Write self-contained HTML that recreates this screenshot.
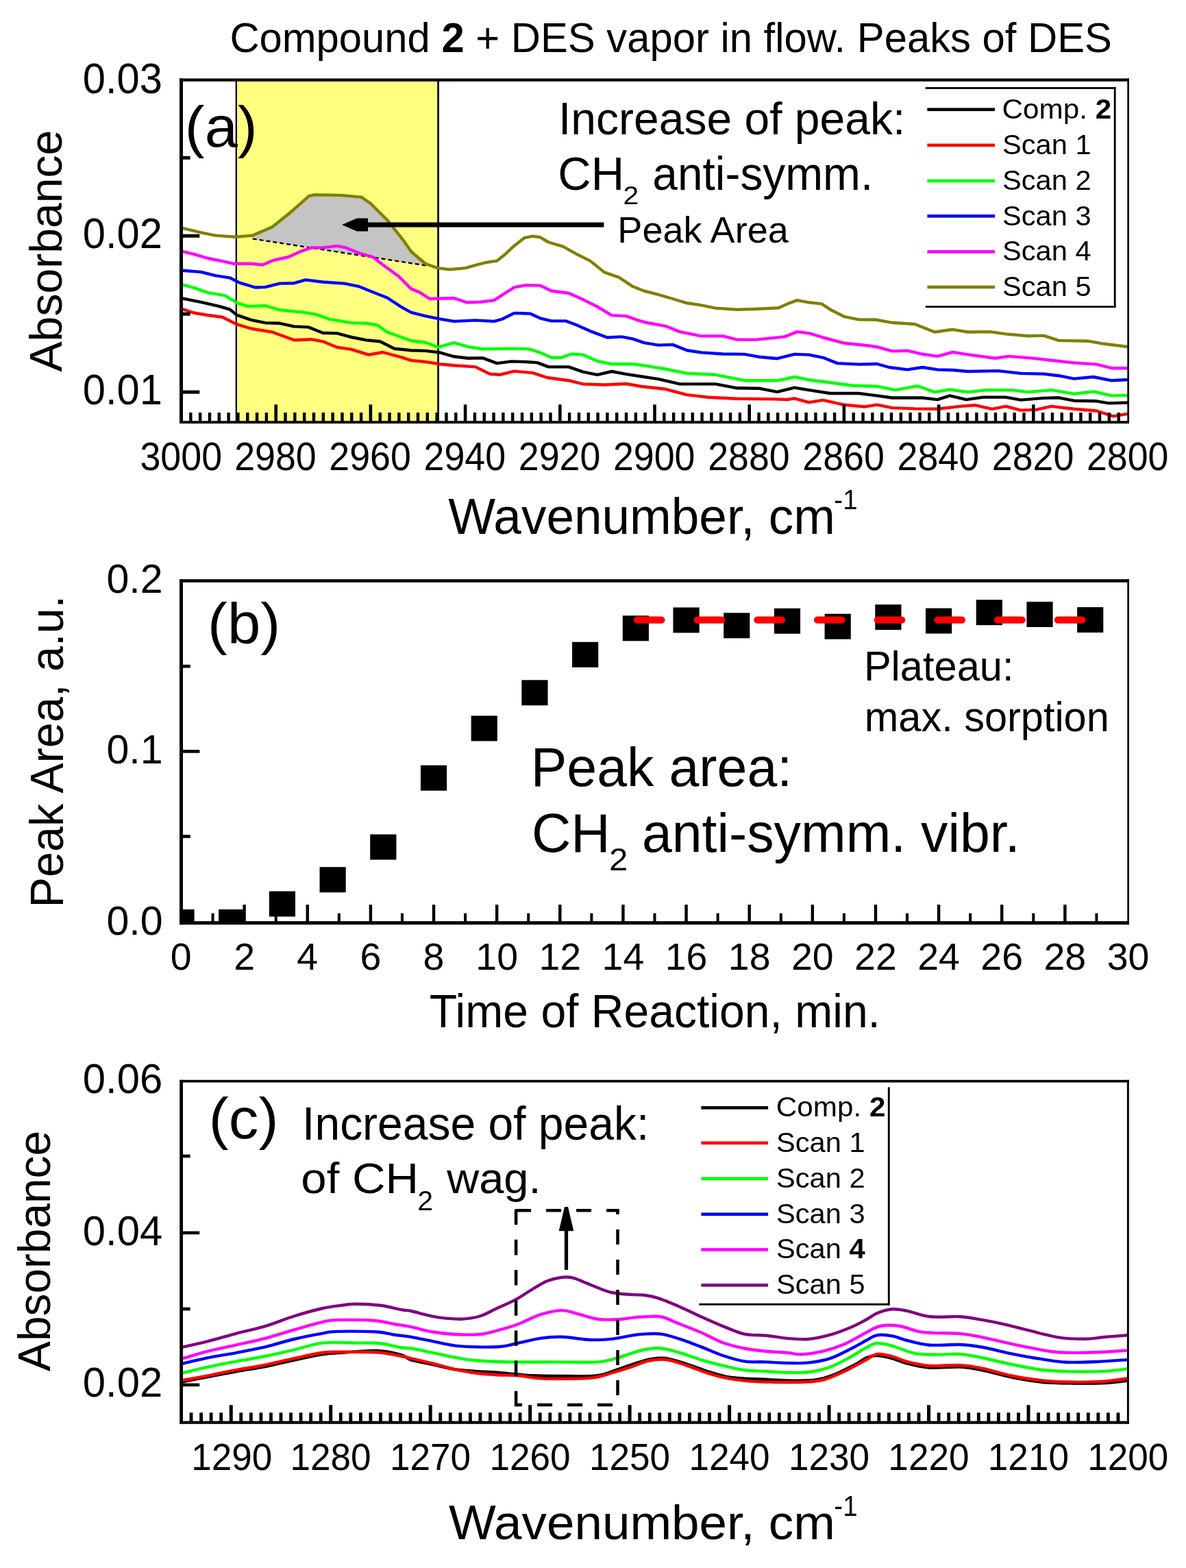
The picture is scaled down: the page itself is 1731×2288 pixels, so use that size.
<!DOCTYPE html>
<html><head><meta charset="utf-8"><title>Compound 2 + DES vapor in flow</title>
<style>html,body{margin:0;padding:0;background:#fff;}svg{display:block;}</style></head><body>
<svg width="1731" height="2288" viewBox="0 0 1731 2288" font-family="&apos;Liberation Sans&apos;, Arial, Helvetica, sans-serif">
<rect width="1731" height="2288" fill="#fff"/>
<defs><clipPath id="ca"><rect x="264" y="116" width="1383" height="500"/></clipPath><clipPath id="cb"><rect x="264" y="847" width="1383" height="499"/></clipPath><clipPath id="cc"><rect x="264" y="1577" width="1383" height="498"/></clipPath></defs>
<text transform="translate(335.41,75.50) scale(0.9899,1)" font-size="60.40">Compound <tspan font-weight="bold">2</tspan> + DES vapor in flow. Peaks of DES</text>
<rect x="344.50" y="117.00" width="295.10" height="499.00" fill="#FFFF80"/>
<polygon points="368.7,343.6 397.3,331.2 426.0,308.2 450.9,286.2 458.5,284.3 496.8,284.9 527.3,287.6 540.7,296.8 565.6,321.6 588.5,350.3 600.0,367.0 611.5,377.0 622.9,386.5 622.9,387.6 368.7,348.4" fill="#C4C4C4"/>
<line x1="368.7" y1="348.4" x2="622.9" y2="387.6" stroke="#000" stroke-width="2.4" stroke-dasharray="6 4"/>
<rect x="343.70" y="117.00" width="2.20" height="499.00" fill="#000"/>
<rect x="638.25" y="117.00" width="2.70" height="499.00" fill="#000"/>
<g clip-path="url(#ca)">
<polyline points="265.0,435.2 267.2,435.6 293.4,440.8 320.5,447.1 335.2,451.3 345.6,459.6 366.5,466.9 387.4,471.1 408.4,471.8 429.3,476.4 450.2,477.4 471.1,485.8 492.0,486.4 512.9,492.0 533.8,496.2 554.7,498.3 575.6,508.8 600.0,511.3 620.9,511.9 641.8,514.4 662.7,520.3 683.6,522.8 704.5,522.4 725.4,530.1 746.4,527.4 767.3,528.0 784.0,529.1 800.7,535.4 830.0,535.4 850.9,542.7 871.8,546.8 892.7,542.0 913.6,545.8 937.0,549.5 960.9,553.1 992.3,560.4 1044.5,560.4 1075.9,566.3 1107.3,566.7 1134.4,571.9 1159.5,565.7 1180.4,569.2 1211.8,574.0 1253.6,574.0 1280.0,577.4 1302.1,580.5 1346.3,580.5 1368.4,583.1 1386.1,577.4 1410.4,583.1 1434.7,579.6 1467.9,579.6 1490.0,583.6 1523.1,580.9 1545.3,580.3 1567.4,584.7 1600.5,585.3 1618.2,588.4 1646.0,587.5" fill="none" stroke="#000" stroke-width="4.40" stroke-linejoin="round" stroke-linecap="butt"/>
<polyline points="265.0,450.8 267.2,451.3 282.9,456.5 303.8,460.0 324.7,462.8 345.6,473.2 366.5,479.5 397.9,484.7 429.3,496.2 454.3,495.2 471.1,498.3 492.0,506.7 512.9,509.8 538.0,517.7 558.9,514.0 586.0,521.3 600.0,525.9 620.9,528.0 641.8,531.2 662.7,533.3 694.1,535.4 715.0,545.8 729.6,546.8 750.5,541.6 777.7,544.1 798.6,551.0 830.0,555.2 850.9,560.4 882.2,561.5 913.6,560.0 937.0,564.0 971.4,567.8 1002.7,576.1 1034.1,579.7 1075.9,581.8 1128.2,582.4 1149.1,583.0 1159.5,581.3 1180.4,587.2 1201.3,583.9 1232.7,590.8 1262.0,593.5 1280.0,590.6 1302.1,595.1 1335.3,596.4 1368.4,596.8 1401.6,592.9 1423.7,591.3 1448.0,596.8 1467.9,592.9 1490.0,598.6 1512.1,597.9 1534.2,592.9 1567.4,596.8 1600.5,599.5 1624.8,607.4 1646.0,603.9" fill="none" stroke="#FF0000" stroke-width="4.40" stroke-linejoin="round" stroke-linecap="butt"/>
<polyline points="265.0,415.2 267.2,415.7 282.9,419.9 303.8,427.2 328.9,431.4 345.6,441.9 362.4,447.1 387.4,446.0 408.4,452.3 439.7,455.4 460.6,458.6 481.5,465.9 512.9,471.1 533.8,471.8 550.5,474.3 565.2,484.7 586.0,492.0 600.0,497.3 620.9,499.8 639.7,506.7 662.7,500.2 683.6,506.1 704.5,509.2 746.4,508.6 771.4,509.2 788.2,514.4 804.9,521.8 819.5,521.8 834.2,516.5 850.9,517.6 871.8,527.0 892.7,531.2 924.1,531.2 940.0,533.3 971.4,538.5 1002.7,544.8 1044.5,546.8 1086.4,555.2 1136.5,555.2 1159.5,550.0 1180.4,554.2 1211.8,558.3 1243.2,562.5 1280.0,563.7 1306.5,569.2 1339.7,563.2 1364.0,572.1 1386.1,568.5 1412.6,572.1 1439.2,569.2 1478.9,569.4 1501.0,572.1 1534.2,569.2 1567.4,574.7 1596.1,571.4 1622.6,577.4 1646.0,576.9" fill="none" stroke="#00FF00" stroke-width="4.40" stroke-linejoin="round" stroke-linecap="butt"/>
<polyline points="265.0,394.6 267.2,394.8 293.4,396.9 314.3,402.1 335.2,405.3 349.8,412.6 372.8,419.5 387.4,418.9 408.4,413.6 429.3,413.2 446.0,408.4 471.1,411.5 502.4,413.6 523.3,417.8 544.2,426.2 565.2,434.5 586.0,448.1 600.0,455.9 620.9,461.1 641.8,465.3 662.7,468.9 694.1,467.4 721.3,468.9 733.8,465.3 750.5,456.9 773.5,457.6 788.2,464.3 804.9,468.4 825.8,468.4 840.4,473.7 861.3,483.1 886.4,492.5 907.3,491.4 924.1,494.6 940.0,500.2 960.9,503.6 981.8,502.9 1002.7,511.3 1023.6,514.4 1055.0,516.5 1086.4,516.9 1107.3,520.7 1134.4,523.2 1159.5,516.9 1180.4,517.6 1201.3,521.8 1222.3,530.1 1253.6,531.6 1280.0,531.0 1297.7,536.0 1324.2,539.4 1346.3,536.0 1368.4,539.4 1390.5,540.0 1412.6,542.0 1456.8,541.1 1490.0,544.9 1523.1,545.6 1545.3,548.2 1567.4,552.6 1596.1,550.0 1622.6,555.3 1646.0,554.0" fill="none" stroke="#0000FF" stroke-width="4.40" stroke-linejoin="round" stroke-linecap="butt"/>
<polyline points="265.0,366.7 267.2,367.2 282.9,370.8 303.8,377.0 324.7,381.2 341.4,384.8 366.5,384.8 383.3,386.5 397.9,380.2 420.9,375.0 439.7,366.6 454.3,361.4 471.1,361.4 492.0,358.9 504.5,361.4 525.4,369.7 544.2,375.0 558.9,386.5 581.9,403.2 600.0,421.4 612.5,426.6 627.2,436.0 662.7,435.0 681.5,441.3 700.4,440.8 721.3,438.1 733.8,429.8 750.5,419.3 767.3,416.2 788.2,416.6 804.9,424.5 830.0,427.7 850.9,437.1 871.8,447.5 892.7,460.1 913.6,461.1 934.5,468.4 945.0,471.0 971.4,475.8 992.3,484.1 1023.6,490.4 1055.0,490.4 1075.9,495.6 1103.1,495.6 1128.2,493.1 1144.9,491.4 1163.7,484.1 1180.4,486.2 1201.3,492.5 1232.7,500.8 1264.1,504.0 1280.0,506.2 1302.1,512.4 1324.2,511.7 1346.3,516.8 1368.4,519.9 1390.5,513.9 1412.6,517.3 1452.4,522.8 1472.3,519.9 1501.0,522.1 1534.2,525.7 1567.4,529.4 1600.5,531.6 1622.6,537.2 1646.0,537.2" fill="none" stroke="#FF00FF" stroke-width="4.40" stroke-linejoin="round" stroke-linecap="butt"/>
<polyline points="265.0,332.5 267.2,333.1 293.4,339.4 314.3,343.6 343.5,345.7 368.7,343.6 397.3,331.2 426.0,308.2 450.9,286.2 458.5,284.3 496.8,284.9 527.3,287.6 540.7,296.8 565.6,321.6 588.5,350.3 600.0,367.0 611.5,377.0 620.9,384.8 638.7,391.1 656.4,393.2 679.4,391.1 694.1,386.9 710.8,382.7 725.4,380.6 735.9,372.3 750.5,358.7 765.2,347.2 777.7,344.7 788.2,346.1 800.7,353.5 821.6,359.7 840.4,370.2 861.3,380.6 882.2,397.4 903.2,404.7 924.1,418.3 940.0,424.5 960.9,429.8 981.8,436.0 1002.7,442.3 1023.6,445.4 1044.5,449.6 1075.9,451.7 1107.3,450.7 1136.5,449.2 1149.1,443.4 1163.7,438.1 1180.4,441.3 1199.3,443.4 1211.8,451.7 1232.7,462.2 1253.6,466.4 1278.0,466.5 1302.1,470.8 1335.3,473.0 1364.0,484.5 1390.5,480.8 1412.6,484.5 1445.8,484.1 1467.9,487.4 1501.0,490.3 1523.1,489.6 1545.3,496.9 1589.5,497.8 1611.6,501.8 1646.0,506.0" fill="none" stroke="#808000" stroke-width="4.40" stroke-linejoin="round" stroke-linecap="butt"/>
</g>
<rect x="536.00" y="324.50" width="345.40" height="7.00" fill="#000"/>
<polygon points="499.1,328 521,318.4 537,318.4 537,337.6 521,337.6" fill="#000"/>
<rect x="262.00" y="114.50" width="1386.00" height="4.30" fill="#000"/>
<rect x="262.00" y="114.50" width="5.00" height="503.50" fill="#000"/>
<rect x="1645.30" y="114.50" width="2.70" height="503.50" fill="#000"/>
<rect x="262.00" y="614.20" width="1386.00" height="3.80" fill="#000"/>
<rect x="276.12" y="602.00" width="4.40" height="14.00" fill="#000"/>
<rect x="289.94" y="602.00" width="4.40" height="14.00" fill="#000"/>
<rect x="303.76" y="602.00" width="4.40" height="14.00" fill="#000"/>
<rect x="317.58" y="602.00" width="4.40" height="14.00" fill="#000"/>
<rect x="331.40" y="602.00" width="4.40" height="14.00" fill="#000"/>
<rect x="345.22" y="602.00" width="4.40" height="14.00" fill="#000"/>
<rect x="359.04" y="602.00" width="4.40" height="14.00" fill="#000"/>
<rect x="372.86" y="602.00" width="4.40" height="14.00" fill="#000"/>
<rect x="386.68" y="602.00" width="4.40" height="14.00" fill="#000"/>
<rect x="400.40" y="590.30" width="4.60" height="25.70" fill="#000"/>
<rect x="414.32" y="602.00" width="4.40" height="14.00" fill="#000"/>
<rect x="428.14" y="602.00" width="4.40" height="14.00" fill="#000"/>
<rect x="441.96" y="602.00" width="4.40" height="14.00" fill="#000"/>
<rect x="455.78" y="602.00" width="4.40" height="14.00" fill="#000"/>
<rect x="469.60" y="602.00" width="4.40" height="14.00" fill="#000"/>
<rect x="483.42" y="602.00" width="4.40" height="14.00" fill="#000"/>
<rect x="497.24" y="602.00" width="4.40" height="14.00" fill="#000"/>
<rect x="511.06" y="602.00" width="4.40" height="14.00" fill="#000"/>
<rect x="524.88" y="602.00" width="4.40" height="14.00" fill="#000"/>
<rect x="538.60" y="590.30" width="4.60" height="25.70" fill="#000"/>
<rect x="552.52" y="602.00" width="4.40" height="14.00" fill="#000"/>
<rect x="566.34" y="602.00" width="4.40" height="14.00" fill="#000"/>
<rect x="580.16" y="602.00" width="4.40" height="14.00" fill="#000"/>
<rect x="593.98" y="602.00" width="4.40" height="14.00" fill="#000"/>
<rect x="607.80" y="602.00" width="4.40" height="14.00" fill="#000"/>
<rect x="621.62" y="602.00" width="4.40" height="14.00" fill="#000"/>
<rect x="635.44" y="602.00" width="4.40" height="14.00" fill="#000"/>
<rect x="649.26" y="602.00" width="4.40" height="14.00" fill="#000"/>
<rect x="663.08" y="602.00" width="4.40" height="14.00" fill="#000"/>
<rect x="676.80" y="590.30" width="4.60" height="25.70" fill="#000"/>
<rect x="690.72" y="602.00" width="4.40" height="14.00" fill="#000"/>
<rect x="704.54" y="602.00" width="4.40" height="14.00" fill="#000"/>
<rect x="718.36" y="602.00" width="4.40" height="14.00" fill="#000"/>
<rect x="732.18" y="602.00" width="4.40" height="14.00" fill="#000"/>
<rect x="746.00" y="602.00" width="4.40" height="14.00" fill="#000"/>
<rect x="759.82" y="602.00" width="4.40" height="14.00" fill="#000"/>
<rect x="773.64" y="602.00" width="4.40" height="14.00" fill="#000"/>
<rect x="787.46" y="602.00" width="4.40" height="14.00" fill="#000"/>
<rect x="801.28" y="602.00" width="4.40" height="14.00" fill="#000"/>
<rect x="815.00" y="590.30" width="4.60" height="25.70" fill="#000"/>
<rect x="828.92" y="602.00" width="4.40" height="14.00" fill="#000"/>
<rect x="842.74" y="602.00" width="4.40" height="14.00" fill="#000"/>
<rect x="856.56" y="602.00" width="4.40" height="14.00" fill="#000"/>
<rect x="870.38" y="602.00" width="4.40" height="14.00" fill="#000"/>
<rect x="884.20" y="602.00" width="4.40" height="14.00" fill="#000"/>
<rect x="898.02" y="602.00" width="4.40" height="14.00" fill="#000"/>
<rect x="911.84" y="602.00" width="4.40" height="14.00" fill="#000"/>
<rect x="925.66" y="602.00" width="4.40" height="14.00" fill="#000"/>
<rect x="939.48" y="602.00" width="4.40" height="14.00" fill="#000"/>
<rect x="953.20" y="590.30" width="4.60" height="25.70" fill="#000"/>
<rect x="967.12" y="602.00" width="4.40" height="14.00" fill="#000"/>
<rect x="980.94" y="602.00" width="4.40" height="14.00" fill="#000"/>
<rect x="994.76" y="602.00" width="4.40" height="14.00" fill="#000"/>
<rect x="1008.58" y="602.00" width="4.40" height="14.00" fill="#000"/>
<rect x="1022.40" y="602.00" width="4.40" height="14.00" fill="#000"/>
<rect x="1036.22" y="602.00" width="4.40" height="14.00" fill="#000"/>
<rect x="1050.04" y="602.00" width="4.40" height="14.00" fill="#000"/>
<rect x="1063.86" y="602.00" width="4.40" height="14.00" fill="#000"/>
<rect x="1077.68" y="602.00" width="4.40" height="14.00" fill="#000"/>
<rect x="1091.40" y="590.30" width="4.60" height="25.70" fill="#000"/>
<rect x="1105.32" y="602.00" width="4.40" height="14.00" fill="#000"/>
<rect x="1119.14" y="602.00" width="4.40" height="14.00" fill="#000"/>
<rect x="1132.96" y="602.00" width="4.40" height="14.00" fill="#000"/>
<rect x="1146.78" y="602.00" width="4.40" height="14.00" fill="#000"/>
<rect x="1160.60" y="602.00" width="4.40" height="14.00" fill="#000"/>
<rect x="1174.42" y="602.00" width="4.40" height="14.00" fill="#000"/>
<rect x="1188.24" y="602.00" width="4.40" height="14.00" fill="#000"/>
<rect x="1202.06" y="602.00" width="4.40" height="14.00" fill="#000"/>
<rect x="1215.88" y="602.00" width="4.40" height="14.00" fill="#000"/>
<rect x="1229.60" y="590.30" width="4.60" height="25.70" fill="#000"/>
<rect x="1243.52" y="602.00" width="4.40" height="14.00" fill="#000"/>
<rect x="1257.34" y="602.00" width="4.40" height="14.00" fill="#000"/>
<rect x="1271.16" y="602.00" width="4.40" height="14.00" fill="#000"/>
<rect x="1284.98" y="602.00" width="4.40" height="14.00" fill="#000"/>
<rect x="1298.80" y="602.00" width="4.40" height="14.00" fill="#000"/>
<rect x="1312.62" y="602.00" width="4.40" height="14.00" fill="#000"/>
<rect x="1326.44" y="602.00" width="4.40" height="14.00" fill="#000"/>
<rect x="1340.26" y="602.00" width="4.40" height="14.00" fill="#000"/>
<rect x="1354.08" y="602.00" width="4.40" height="14.00" fill="#000"/>
<rect x="1367.80" y="590.30" width="4.60" height="25.70" fill="#000"/>
<rect x="1381.72" y="602.00" width="4.40" height="14.00" fill="#000"/>
<rect x="1395.54" y="602.00" width="4.40" height="14.00" fill="#000"/>
<rect x="1409.36" y="602.00" width="4.40" height="14.00" fill="#000"/>
<rect x="1423.18" y="602.00" width="4.40" height="14.00" fill="#000"/>
<rect x="1437.00" y="602.00" width="4.40" height="14.00" fill="#000"/>
<rect x="1450.82" y="602.00" width="4.40" height="14.00" fill="#000"/>
<rect x="1464.64" y="602.00" width="4.40" height="14.00" fill="#000"/>
<rect x="1478.46" y="602.00" width="4.40" height="14.00" fill="#000"/>
<rect x="1492.28" y="602.00" width="4.40" height="14.00" fill="#000"/>
<rect x="1506.00" y="590.30" width="4.60" height="25.70" fill="#000"/>
<rect x="1519.92" y="602.00" width="4.40" height="14.00" fill="#000"/>
<rect x="1533.74" y="602.00" width="4.40" height="14.00" fill="#000"/>
<rect x="1547.56" y="602.00" width="4.40" height="14.00" fill="#000"/>
<rect x="1561.38" y="602.00" width="4.40" height="14.00" fill="#000"/>
<rect x="1575.20" y="602.00" width="4.40" height="14.00" fill="#000"/>
<rect x="1589.02" y="602.00" width="4.40" height="14.00" fill="#000"/>
<rect x="1602.84" y="602.00" width="4.40" height="14.00" fill="#000"/>
<rect x="1616.66" y="602.00" width="4.40" height="14.00" fill="#000"/>
<rect x="1630.48" y="602.00" width="4.40" height="14.00" fill="#000"/>
<rect x="265.00" y="569.60" width="26.30" height="5.00" fill="#000"/>
<rect x="265.00" y="455.65" width="12.70" height="5.00" fill="#000"/>
<rect x="265.00" y="341.70" width="26.30" height="5.00" fill="#000"/>
<rect x="265.00" y="227.75" width="12.70" height="5.00" fill="#000"/>
<rect x="1350.80" y="127.10" width="277.70" height="2.80" fill="#000"/>
<rect x="1350.80" y="446.20" width="277.70" height="2.80" fill="#000"/>
<rect x="1625.80" y="127.10" width="2.80" height="321.90" fill="#000"/>
<rect x="1353.40" y="157.50" width="98.60" height="4.60" fill="#000"/>
<rect x="1353.40" y="209.60" width="98.60" height="4.60" fill="#FF0000"/>
<rect x="1353.40" y="261.60" width="98.60" height="4.60" fill="#00FF00"/>
<rect x="1353.40" y="313.00" width="98.60" height="4.60" fill="#0000FF"/>
<rect x="1353.40" y="365.00" width="98.60" height="4.60" fill="#FF00FF"/>
<rect x="1353.40" y="416.60" width="98.60" height="4.60" fill="#808000"/>
<rect x="245.40" y="1327.00" width="38.2" height="37" fill="#000" clip-path="url(#cb)"/>
<rect x="319.11" y="1327.00" width="38.2" height="37" fill="#000" clip-path="url(#cb)"/>
<rect x="392.81" y="1300.50" width="38.2" height="37" fill="#000" clip-path="url(#cb)"/>
<rect x="466.52" y="1265.20" width="38.2" height="37" fill="#000" clip-path="url(#cb)"/>
<rect x="540.23" y="1217.50" width="38.2" height="37" fill="#000" clip-path="url(#cb)"/>
<rect x="613.93" y="1116.70" width="38.2" height="37" fill="#000" clip-path="url(#cb)"/>
<rect x="687.64" y="1044.40" width="38.2" height="37" fill="#000" clip-path="url(#cb)"/>
<rect x="761.35" y="992.30" width="38.2" height="37" fill="#000" clip-path="url(#cb)"/>
<rect x="835.05" y="936.80" width="38.2" height="37" fill="#000" clip-path="url(#cb)"/>
<rect x="908.76" y="898.30" width="38.2" height="37" fill="#000" clip-path="url(#cb)"/>
<rect x="982.47" y="886.40" width="38.2" height="37" fill="#000" clip-path="url(#cb)"/>
<rect x="1056.17" y="894.30" width="38.2" height="37" fill="#000" clip-path="url(#cb)"/>
<rect x="1129.88" y="887.70" width="38.2" height="37" fill="#000" clip-path="url(#cb)"/>
<rect x="1203.59" y="895.70" width="38.2" height="37" fill="#000" clip-path="url(#cb)"/>
<rect x="1277.29" y="882.10" width="38.2" height="37" fill="#000" clip-path="url(#cb)"/>
<rect x="1351.00" y="887.50" width="38.2" height="37" fill="#000" clip-path="url(#cb)"/>
<rect x="1424.71" y="875.20" width="38.2" height="37" fill="#000" clip-path="url(#cb)"/>
<rect x="1498.41" y="878.00" width="38.2" height="37" fill="#000" clip-path="url(#cb)"/>
<rect x="1572.12" y="886.00" width="38.2" height="37" fill="#000" clip-path="url(#cb)"/>
<line x1="930" y1="904.6" x2="1592" y2="904.6" stroke="#FF0000" stroke-width="10.4" stroke-linecap="round" stroke-dasharray="35.4 52.3"/>
<rect x="262.00" y="845.20" width="1386.00" height="4.60" fill="#000"/>
<rect x="262.00" y="845.20" width="5.00" height="504.00" fill="#000"/>
<rect x="1645.30" y="845.20" width="2.70" height="504.00" fill="#000"/>
<rect x="262.00" y="1344.20" width="1386.00" height="5.00" fill="#000"/>
<rect x="308.57" y="1332.60" width="4.00" height="12.40" fill="#000"/>
<rect x="354.43" y="1320.00" width="4.40" height="25.00" fill="#000"/>
<rect x="400.70" y="1332.60" width="4.00" height="12.40" fill="#000"/>
<rect x="446.57" y="1320.00" width="4.40" height="25.00" fill="#000"/>
<rect x="492.83" y="1332.60" width="4.00" height="12.40" fill="#000"/>
<rect x="538.70" y="1320.00" width="4.40" height="25.00" fill="#000"/>
<rect x="584.97" y="1332.60" width="4.00" height="12.40" fill="#000"/>
<rect x="630.83" y="1320.00" width="4.40" height="25.00" fill="#000"/>
<rect x="677.10" y="1332.60" width="4.00" height="12.40" fill="#000"/>
<rect x="722.97" y="1320.00" width="4.40" height="25.00" fill="#000"/>
<rect x="769.23" y="1332.60" width="4.00" height="12.40" fill="#000"/>
<rect x="815.10" y="1320.00" width="4.40" height="25.00" fill="#000"/>
<rect x="861.37" y="1332.60" width="4.00" height="12.40" fill="#000"/>
<rect x="907.23" y="1320.00" width="4.40" height="25.00" fill="#000"/>
<rect x="953.50" y="1332.60" width="4.00" height="12.40" fill="#000"/>
<rect x="999.37" y="1320.00" width="4.40" height="25.00" fill="#000"/>
<rect x="1045.63" y="1332.60" width="4.00" height="12.40" fill="#000"/>
<rect x="1091.50" y="1320.00" width="4.40" height="25.00" fill="#000"/>
<rect x="1137.77" y="1332.60" width="4.00" height="12.40" fill="#000"/>
<rect x="1183.63" y="1320.00" width="4.40" height="25.00" fill="#000"/>
<rect x="1229.90" y="1332.60" width="4.00" height="12.40" fill="#000"/>
<rect x="1275.77" y="1320.00" width="4.40" height="25.00" fill="#000"/>
<rect x="1322.03" y="1332.60" width="4.00" height="12.40" fill="#000"/>
<rect x="1367.90" y="1320.00" width="4.40" height="25.00" fill="#000"/>
<rect x="1414.17" y="1332.60" width="4.00" height="12.40" fill="#000"/>
<rect x="1460.03" y="1320.00" width="4.40" height="25.00" fill="#000"/>
<rect x="1506.30" y="1332.60" width="4.00" height="12.40" fill="#000"/>
<rect x="1552.17" y="1320.00" width="4.40" height="25.00" fill="#000"/>
<rect x="1598.43" y="1332.60" width="4.00" height="12.40" fill="#000"/>
<rect x="265.00" y="1094.10" width="26.40" height="4.60" fill="#000"/>
<rect x="265.00" y="969.90" width="12.80" height="4.60" fill="#000"/>
<rect x="265.00" y="1218.20" width="12.80" height="4.60" fill="#000"/>
<g clip-path="url(#cc)">
<path d="M265.0,2016.4 C265.4,2016.3 260.7,2017.2 267.2,2016.0 C273.7,2014.8 290.7,2011.5 303.8,2009.0 C316.9,2006.5 331.7,2003.5 345.6,2001.0 C359.5,1998.5 373.4,1996.8 387.4,1994.0 C401.3,1991.2 415.4,1987.5 429.3,1984.5 C443.2,1981.5 458.9,1977.8 471.1,1976.0 C483.3,1974.2 489.2,1974.3 502.4,1973.5 C515.6,1972.7 536.6,1970.4 550.5,1971.0 C564.4,1971.6 577.8,1974.8 586.0,1977.0 C594.2,1979.2 592.4,1982.0 600.0,1984.3 C607.6,1986.6 620.9,1988.7 631.4,1991.0 C641.9,1993.3 652.2,1996.3 662.7,1998.0 C673.2,1999.7 683.7,2000.2 694.1,2001.0 C704.5,2001.8 711.5,2001.7 725.4,2002.7 C739.3,2003.8 760.3,2006.4 777.7,2007.3 C795.1,2008.2 814.3,2007.9 830.0,2007.9 C845.7,2007.9 859.6,2009.0 871.8,2007.3 C884.0,2005.6 894.5,2000.6 903.2,1997.8 C911.9,1995.0 916.3,1992.9 924.1,1990.5 C931.9,1988.1 942.1,1984.6 950.0,1983.2 C957.9,1981.8 962.6,1980.8 971.4,1982.0 C980.2,1983.2 992.2,1987.2 1002.7,1990.5 C1013.2,1993.8 1023.6,1998.3 1034.1,2001.5 C1044.5,2004.7 1053.2,2008.0 1065.4,2009.8 C1077.6,2011.6 1086.4,2011.9 1107.3,2012.5 C1128.2,2013.1 1168.2,2016.6 1190.9,2013.5 C1213.6,2010.4 1231.0,1999.0 1243.2,1993.7 C1255.4,1988.4 1258.0,1984.1 1264.1,1981.5 C1270.2,1978.9 1273.7,1977.9 1280.0,1978.0 C1286.3,1978.1 1294.7,1980.1 1302.1,1982.0 C1309.5,1983.9 1315.0,1987.2 1324.2,1989.5 C1333.4,1991.8 1344.5,1995.0 1357.4,1995.8 C1370.3,1996.6 1388.7,1993.9 1401.6,1994.5 C1414.5,1995.1 1421.8,1996.9 1434.7,1999.5 C1447.6,2002.1 1464.2,2007.3 1478.9,2010.2 C1493.6,2013.1 1508.3,2015.6 1523.1,2017.0 C1537.8,2018.4 1552.7,2018.3 1567.4,2018.5 C1582.2,2018.7 1598.5,2018.7 1611.6,2018.0 C1624.7,2017.3 1640.3,2015.2 1646.0,2014.6" fill="none" stroke="#000" stroke-width="4.40" stroke-linejoin="round"/>
<path d="M265.0,2014.4 C265.4,2014.3 260.7,2015.2 267.2,2014.0 C273.7,2012.8 290.7,2009.8 303.8,2007.3 C316.9,2004.8 331.7,2001.5 345.6,1998.9 C359.5,1996.3 373.4,1994.4 387.4,1991.6 C401.3,1988.8 415.4,1985.2 429.3,1982.2 C443.2,1979.2 458.9,1975.4 471.1,1973.8 C483.3,1972.2 489.2,1972.9 502.4,1972.8 C515.6,1972.7 536.6,1972.4 550.5,1973.4 C564.4,1974.4 577.8,1977.5 586.0,1979.0 C594.2,1980.5 592.4,1980.5 600.0,1982.2 C607.6,1984.0 620.9,1986.9 631.4,1989.5 C641.9,1992.1 652.2,1995.5 662.7,1997.8 C673.2,2000.1 683.7,2002.1 694.1,2003.5 C704.5,2004.9 715.0,2005.6 725.4,2006.2 C735.8,2006.8 746.3,2006.4 756.8,2007.3 C767.3,2008.2 776.0,2010.6 788.2,2011.4 C800.4,2012.2 817.1,2012.1 830.0,2011.9 C842.9,2011.7 855.0,2011.8 865.5,2010.4 C876.0,2009.0 882.9,2006.3 892.7,2003.5 C902.5,2000.7 915.4,1996.6 924.1,1993.7 C932.8,1990.8 937.1,1987.7 945.0,1986.0 C952.9,1984.3 961.8,1982.7 971.4,1983.8 C981.0,1984.9 992.2,1989.2 1002.7,1992.6 C1013.2,1996.0 1023.6,2000.9 1034.1,2004.1 C1044.5,2007.3 1055.0,2010.0 1065.4,2011.9 C1075.9,2013.8 1086.3,2014.8 1096.8,2015.6 C1107.3,2016.4 1116.0,2016.5 1128.2,2016.7 C1140.4,2016.9 1157.8,2017.2 1170.0,2016.7 C1182.2,2016.2 1190.8,2016.1 1201.3,2013.5 C1211.8,2010.9 1222.2,2005.9 1232.7,2001.0 C1243.2,1996.1 1256.2,1988.5 1264.1,1984.3 C1272.0,1980.1 1273.7,1976.7 1280.0,1975.9 C1286.3,1975.1 1294.7,1977.5 1302.1,1979.3 C1309.5,1981.1 1315.0,1984.7 1324.2,1987.0 C1333.4,1989.3 1344.5,1992.2 1357.4,1993.0 C1370.3,1993.8 1388.7,1991.4 1401.6,1992.1 C1414.5,1992.8 1421.8,1994.2 1434.7,1996.9 C1447.6,1999.6 1464.2,2005.0 1478.9,2008.0 C1493.6,2011.0 1508.3,2013.1 1523.1,2014.6 C1537.8,2016.1 1552.7,2016.6 1567.4,2016.8 C1582.2,2017.0 1598.5,2016.6 1611.6,2015.7 C1624.7,2014.8 1640.3,2012.0 1646.0,2011.3" fill="none" stroke="#FF0000" stroke-width="4.40" stroke-linejoin="round"/>
<path d="M265.0,2003.6 C265.4,2003.5 260.7,2004.6 267.2,2003.1 C273.7,2001.6 290.7,1997.5 303.8,1994.7 C316.9,1991.9 331.7,1989.0 345.6,1986.4 C359.5,1983.8 373.4,1981.8 387.4,1979.0 C401.3,1976.2 415.4,1972.8 429.3,1969.6 C443.2,1966.4 455.4,1961.3 471.1,1959.6 C486.8,1957.9 509.4,1959.5 523.3,1959.6 C537.2,1959.7 544.2,1959.0 554.7,1960.2 C565.2,1961.4 578.5,1965.3 586.0,1966.5 C593.5,1967.7 592.4,1966.3 600.0,1967.5 C607.6,1968.7 620.9,1971.6 631.4,1973.8 C641.9,1976.0 652.2,1978.6 662.7,1980.5 C673.2,1982.4 680.2,1984.1 694.1,1985.3 C708.0,1986.5 727.2,1987.1 746.4,1987.4 C765.6,1987.8 788.2,1987.4 809.1,1987.4 C830.0,1987.4 856.8,1988.3 871.8,1987.4 C886.8,1986.5 890.3,1984.5 899.0,1982.2 C907.7,1979.9 916.4,1976.1 924.1,1973.8 C931.8,1971.5 938.2,1969.5 945.0,1968.5 C951.8,1967.5 957.2,1966.6 965.1,1967.5 C973.0,1968.4 982.5,1971.0 992.3,1973.8 C1002.0,1976.6 1013.1,1981.2 1023.6,1984.3 C1034.0,1987.4 1044.5,1990.1 1055.0,1992.6 C1065.5,1995.1 1076.0,1997.9 1086.4,1999.3 C1096.9,2000.7 1107.2,2000.4 1117.7,2001.0 C1128.2,2001.6 1138.6,2002.5 1149.1,2002.7 C1159.5,2002.9 1170.0,2003.3 1180.4,2002.0 C1190.9,2000.7 1201.3,1998.5 1211.8,1994.7 C1222.3,1990.9 1234.5,1983.7 1243.2,1979.0 C1251.9,1974.3 1258.0,1969.7 1264.1,1966.5 C1270.2,1963.3 1273.7,1960.5 1280.0,1960.0 C1286.3,1959.5 1292.9,1961.3 1302.1,1963.8 C1311.3,1966.3 1324.2,1972.7 1335.3,1974.8 C1346.3,1976.9 1357.4,1976.4 1368.4,1976.6 C1379.5,1976.8 1390.5,1975.1 1401.6,1975.9 C1412.6,1976.7 1421.8,1978.9 1434.7,1981.5 C1447.6,1984.1 1464.2,1988.5 1478.9,1991.4 C1493.6,1994.4 1508.3,1997.5 1523.1,1999.2 C1537.8,2000.9 1552.7,2001.1 1567.4,2001.4 C1582.2,2001.7 1598.5,2001.6 1611.6,2000.9 C1624.7,2000.2 1640.3,1998.0 1646.0,1997.4" fill="none" stroke="#00FF00" stroke-width="4.40" stroke-linejoin="round"/>
<path d="M265.0,1990.0 C265.4,1989.9 260.7,1991.0 267.2,1989.5 C273.7,1988.0 290.7,1983.7 303.8,1981.1 C316.9,1978.5 331.7,1976.4 345.6,1973.8 C359.5,1971.2 373.4,1968.7 387.4,1965.4 C401.3,1962.1 415.4,1957.3 429.3,1954.0 C443.2,1950.7 460.7,1947.4 471.1,1945.6 C481.6,1943.8 478.8,1943.2 492.0,1942.9 C505.2,1942.6 536.6,1942.7 550.5,1943.5 C564.4,1944.3 567.4,1946.5 575.6,1947.7 C583.9,1948.9 590.7,1949.2 600.0,1950.8 C609.3,1952.4 620.9,1955.0 631.4,1957.1 C641.9,1959.2 652.2,1962.0 662.7,1963.4 C673.2,1964.8 683.0,1965.1 694.1,1965.4 C705.2,1965.7 719.5,1965.9 729.6,1965.0 C739.7,1964.1 744.9,1962.2 754.7,1960.2 C764.5,1958.2 777.4,1954.5 788.2,1952.9 C799.0,1951.3 807.3,1950.5 819.5,1950.8 C831.7,1951.1 849.1,1954.5 861.3,1955.0 C873.5,1955.5 882.2,1955.0 892.7,1953.9 C903.2,1952.8 916.2,1949.5 924.1,1948.3 C932.0,1947.1 933.2,1946.9 940.0,1946.6 C946.8,1946.3 956.4,1945.4 965.1,1946.6 C973.8,1947.8 982.5,1950.8 992.3,1953.9 C1002.0,1957.0 1013.1,1961.4 1023.6,1965.4 C1034.0,1969.4 1044.5,1974.5 1055.0,1978.0 C1065.5,1981.5 1076.0,1984.8 1086.4,1986.4 C1096.9,1988.0 1107.2,1987.0 1117.7,1987.4 C1128.2,1987.8 1138.6,1988.7 1149.1,1988.9 C1159.5,1989.1 1170.0,1989.5 1180.4,1988.4 C1190.9,1987.3 1201.3,1985.7 1211.8,1982.2 C1222.3,1978.7 1234.5,1971.9 1243.2,1967.5 C1251.9,1963.1 1258.0,1959.2 1264.1,1956.0 C1270.2,1952.8 1273.7,1949.4 1280.0,1948.3 C1286.3,1947.2 1294.7,1948.1 1302.1,1949.4 C1309.5,1950.7 1315.0,1953.8 1324.2,1956.0 C1333.4,1958.2 1344.5,1961.7 1357.4,1962.7 C1370.3,1963.7 1388.7,1961.5 1401.6,1962.0 C1414.5,1962.5 1421.8,1963.7 1434.7,1966.0 C1447.6,1968.3 1464.2,1973.0 1478.9,1975.9 C1493.6,1978.9 1510.2,1981.7 1523.1,1983.7 C1536.0,1985.7 1543.4,1987.2 1556.3,1987.7 C1569.2,1988.2 1585.5,1987.6 1600.5,1987.0 C1615.5,1986.4 1638.4,1984.6 1646.0,1984.1" fill="none" stroke="#0000FF" stroke-width="4.40" stroke-linejoin="round"/>
<path d="M265.0,1982.8 C265.4,1982.7 260.7,1984.0 267.2,1982.2 C273.7,1980.4 290.7,1975.0 303.8,1971.7 C316.9,1968.4 331.7,1965.4 345.6,1962.3 C359.5,1959.2 373.4,1956.6 387.4,1952.9 C401.3,1949.2 415.4,1944.4 429.3,1940.4 C443.2,1936.4 460.7,1931.3 471.1,1928.9 C481.6,1926.5 479.8,1926.4 492.0,1926.1 C504.2,1925.8 530.3,1925.8 544.2,1926.8 C558.1,1927.8 566.3,1930.4 575.6,1932.0 C584.9,1933.6 590.7,1934.3 600.0,1936.2 C609.3,1938.1 620.9,1941.7 631.4,1943.5 C641.9,1945.3 651.2,1946.4 662.7,1947.0 C674.2,1947.6 689.2,1948.1 700.4,1947.0 C711.5,1945.9 720.2,1942.9 729.6,1940.4 C739.0,1937.9 747.0,1935.7 756.8,1932.0 C766.6,1928.3 777.8,1921.7 788.2,1918.4 C798.7,1915.1 810.8,1912.4 819.5,1912.1 C828.2,1911.8 831.7,1914.2 840.4,1916.3 C849.1,1918.4 861.3,1923.2 871.8,1924.7 C882.3,1926.2 894.5,1925.7 903.2,1925.3 C911.9,1924.9 918.0,1923.2 924.1,1922.6 C930.2,1922.0 933.2,1921.7 940.0,1921.5 C946.8,1921.3 956.4,1919.8 965.1,1921.5 C973.8,1923.2 982.5,1928.2 992.3,1932.0 C1002.0,1935.8 1013.1,1940.0 1023.6,1944.5 C1034.0,1949.0 1044.5,1955.4 1055.0,1959.2 C1065.5,1963.0 1076.0,1965.4 1086.4,1967.5 C1096.9,1969.6 1107.2,1970.7 1117.7,1971.7 C1128.2,1972.8 1140.4,1973.0 1149.1,1973.8 C1157.8,1974.6 1161.3,1976.6 1170.0,1976.3 C1178.7,1976.0 1190.8,1974.2 1201.3,1971.7 C1211.8,1969.2 1222.2,1965.8 1232.7,1961.3 C1243.2,1956.8 1255.4,1948.9 1264.1,1944.5 C1272.8,1940.1 1276.8,1936.6 1285.0,1935.0 C1293.2,1933.4 1303.0,1933.5 1313.2,1935.0 C1323.4,1936.5 1331.6,1942.1 1346.3,1943.9 C1361.0,1945.8 1386.9,1944.8 1401.6,1946.1 C1416.3,1947.4 1421.8,1949.0 1434.7,1951.6 C1447.6,1954.2 1466.0,1958.8 1478.9,1961.6 C1491.8,1964.4 1501.0,1966.2 1512.1,1968.2 C1523.2,1970.2 1530.6,1972.5 1545.3,1973.3 C1560.0,1974.1 1583.7,1973.8 1600.5,1973.3 C1617.3,1972.8 1638.4,1970.9 1646.0,1970.4" fill="none" stroke="#FF00FF" stroke-width="4.40" stroke-linejoin="round"/>
<path d="M265.0,1966.0 C265.4,1965.9 260.7,1966.9 267.2,1965.4 C273.7,1963.9 290.7,1960.4 303.8,1957.1 C316.9,1953.8 331.7,1949.3 345.6,1945.6 C359.5,1941.9 373.4,1939.3 387.4,1935.1 C401.3,1930.9 415.4,1924.8 429.3,1920.5 C443.2,1916.2 459.6,1911.6 471.1,1909.0 C482.6,1906.4 490.3,1905.8 498.3,1904.8 C506.3,1903.8 509.8,1902.7 519.2,1902.7 C528.6,1902.7 543.6,1903.4 554.7,1904.8 C565.8,1906.2 578.5,1909.7 586.0,1911.1 C593.5,1912.5 594.2,1911.8 600.0,1913.0 C605.8,1914.2 613.9,1916.8 620.9,1918.4 C627.9,1920.0 633.1,1921.5 641.8,1922.6 C650.5,1923.6 663.4,1925.0 673.2,1924.7 C683.0,1924.4 691.7,1923.1 700.4,1920.5 C709.1,1917.9 716.7,1913.0 725.4,1909.0 C734.1,1905.0 743.9,1901.1 752.6,1896.4 C761.3,1891.7 770.0,1885.3 777.7,1880.8 C785.4,1876.3 791.6,1872.1 798.6,1869.3 C805.6,1866.5 813.2,1864.8 819.5,1864.0 C825.8,1863.2 829.2,1863.0 836.2,1864.7 C843.2,1866.5 851.9,1871.0 861.3,1874.5 C870.7,1878.0 882.2,1883.6 892.7,1886.0 C903.2,1888.4 916.2,1888.5 924.1,1889.1 C932.0,1889.7 933.9,1888.9 940.0,1889.8 C946.1,1890.7 952.2,1891.6 960.9,1894.4 C969.6,1897.2 981.8,1902.4 992.3,1906.9 C1002.8,1911.4 1013.1,1916.8 1023.6,1921.5 C1034.0,1926.2 1044.5,1930.9 1055.0,1935.1 C1065.5,1939.3 1076.0,1944.3 1086.4,1946.6 C1096.9,1948.9 1107.2,1947.7 1117.7,1948.7 C1128.2,1949.8 1138.6,1952.0 1149.1,1952.9 C1159.5,1953.8 1170.0,1954.9 1180.4,1954.0 C1190.9,1953.1 1201.3,1950.7 1211.8,1947.7 C1222.3,1944.7 1234.5,1939.9 1243.2,1936.2 C1251.9,1932.5 1258.0,1929.0 1264.1,1925.7 C1270.2,1922.4 1273.7,1918.9 1280.0,1916.3 C1286.3,1913.7 1294.7,1910.9 1302.1,1910.3 C1309.5,1909.7 1315.0,1911.1 1324.2,1912.9 C1333.4,1914.7 1344.5,1919.9 1357.4,1921.3 C1370.3,1922.7 1388.7,1920.5 1401.6,1921.3 C1414.5,1922.1 1423.7,1924.3 1434.7,1926.2 C1445.8,1928.1 1456.9,1930.3 1467.9,1932.8 C1479.0,1935.3 1488.1,1938.1 1501.0,1941.2 C1513.9,1944.3 1531.3,1949.5 1545.3,1951.6 C1559.3,1953.7 1574.0,1953.9 1585.0,1953.8 C1596.0,1953.7 1601.4,1951.9 1611.6,1951.0 C1621.8,1950.1 1640.3,1948.8 1646.0,1948.3" fill="none" stroke="#800080" stroke-width="4.40" stroke-linejoin="round"/>
</g>
<line x1="753.1" y1="1766.2" x2="903.7" y2="1766.2" stroke="#000" stroke-width="4.5" stroke-dasharray="22 22" stroke-dashoffset="0.0"/>
<line x1="901.5" y1="1766.2" x2="901.5" y2="2050.0" stroke="#000" stroke-width="4.5" stroke-dasharray="22 22" stroke-dashoffset="16.2"/>
<line x1="753.1" y1="2050.0" x2="901.5" y2="2050.0" stroke="#000" stroke-width="4.5" stroke-dasharray="22 22" stroke-dashoffset="13.0"/>
<line x1="753.1" y1="1764.6" x2="753.1" y2="2052.2" stroke="#000" stroke-width="4.5" stroke-dasharray="22.6 21.6" stroke-dashoffset="0.0"/>
<rect x="823.90" y="1790.00" width="5.20" height="63.00" fill="#000"/>
<polygon points="824,1761 829,1761 837.3,1796.2 815.7,1796.2" fill="#000"/>
<rect x="262.20" y="1575.80" width="1385.80" height="3.70" fill="#000"/>
<rect x="262.20" y="1575.80" width="4.80" height="502.00" fill="#000"/>
<rect x="1644.90" y="1575.80" width="2.90" height="502.00" fill="#000"/>
<rect x="262.20" y="2073.60" width="1385.80" height="4.20" fill="#000"/>
<rect x="276.65" y="2061.30" width="4.80" height="12.70" fill="#000"/>
<rect x="291.19" y="2061.30" width="4.80" height="12.70" fill="#000"/>
<rect x="305.74" y="2061.30" width="4.80" height="12.70" fill="#000"/>
<rect x="320.29" y="2061.30" width="4.80" height="12.70" fill="#000"/>
<rect x="334.74" y="2050.20" width="5.00" height="23.80" fill="#000"/>
<rect x="349.38" y="2061.30" width="4.80" height="12.70" fill="#000"/>
<rect x="363.93" y="2061.30" width="4.80" height="12.70" fill="#000"/>
<rect x="378.48" y="2061.30" width="4.80" height="12.70" fill="#000"/>
<rect x="393.03" y="2061.30" width="4.80" height="12.70" fill="#000"/>
<rect x="407.57" y="2061.30" width="4.80" height="12.70" fill="#000"/>
<rect x="422.12" y="2061.30" width="4.80" height="12.70" fill="#000"/>
<rect x="436.67" y="2061.30" width="4.80" height="12.70" fill="#000"/>
<rect x="451.22" y="2061.30" width="4.80" height="12.70" fill="#000"/>
<rect x="465.76" y="2061.30" width="4.80" height="12.70" fill="#000"/>
<rect x="480.21" y="2050.20" width="5.00" height="23.80" fill="#000"/>
<rect x="494.86" y="2061.30" width="4.80" height="12.70" fill="#000"/>
<rect x="509.41" y="2061.30" width="4.80" height="12.70" fill="#000"/>
<rect x="523.95" y="2061.30" width="4.80" height="12.70" fill="#000"/>
<rect x="538.50" y="2061.30" width="4.80" height="12.70" fill="#000"/>
<rect x="553.05" y="2061.30" width="4.80" height="12.70" fill="#000"/>
<rect x="567.59" y="2061.30" width="4.80" height="12.70" fill="#000"/>
<rect x="582.14" y="2061.30" width="4.80" height="12.70" fill="#000"/>
<rect x="596.69" y="2061.30" width="4.80" height="12.70" fill="#000"/>
<rect x="611.24" y="2061.30" width="4.80" height="12.70" fill="#000"/>
<rect x="625.68" y="2050.20" width="5.00" height="23.80" fill="#000"/>
<rect x="640.33" y="2061.30" width="4.80" height="12.70" fill="#000"/>
<rect x="654.88" y="2061.30" width="4.80" height="12.70" fill="#000"/>
<rect x="669.43" y="2061.30" width="4.80" height="12.70" fill="#000"/>
<rect x="683.97" y="2061.30" width="4.80" height="12.70" fill="#000"/>
<rect x="698.52" y="2061.30" width="4.80" height="12.70" fill="#000"/>
<rect x="713.07" y="2061.30" width="4.80" height="12.70" fill="#000"/>
<rect x="727.62" y="2061.30" width="4.80" height="12.70" fill="#000"/>
<rect x="742.16" y="2061.30" width="4.80" height="12.70" fill="#000"/>
<rect x="756.71" y="2061.30" width="4.80" height="12.70" fill="#000"/>
<rect x="771.16" y="2050.20" width="5.00" height="23.80" fill="#000"/>
<rect x="785.81" y="2061.30" width="4.80" height="12.70" fill="#000"/>
<rect x="800.35" y="2061.30" width="4.80" height="12.70" fill="#000"/>
<rect x="814.90" y="2061.30" width="4.80" height="12.70" fill="#000"/>
<rect x="829.45" y="2061.30" width="4.80" height="12.70" fill="#000"/>
<rect x="843.99" y="2061.30" width="4.80" height="12.70" fill="#000"/>
<rect x="858.54" y="2061.30" width="4.80" height="12.70" fill="#000"/>
<rect x="873.09" y="2061.30" width="4.80" height="12.70" fill="#000"/>
<rect x="887.64" y="2061.30" width="4.80" height="12.70" fill="#000"/>
<rect x="902.18" y="2061.30" width="4.80" height="12.70" fill="#000"/>
<rect x="916.63" y="2050.20" width="5.00" height="23.80" fill="#000"/>
<rect x="931.28" y="2061.30" width="4.80" height="12.70" fill="#000"/>
<rect x="945.83" y="2061.30" width="4.80" height="12.70" fill="#000"/>
<rect x="960.37" y="2061.30" width="4.80" height="12.70" fill="#000"/>
<rect x="974.92" y="2061.30" width="4.80" height="12.70" fill="#000"/>
<rect x="989.47" y="2061.30" width="4.80" height="12.70" fill="#000"/>
<rect x="1004.02" y="2061.30" width="4.80" height="12.70" fill="#000"/>
<rect x="1018.56" y="2061.30" width="4.80" height="12.70" fill="#000"/>
<rect x="1033.11" y="2061.30" width="4.80" height="12.70" fill="#000"/>
<rect x="1047.66" y="2061.30" width="4.80" height="12.70" fill="#000"/>
<rect x="1062.11" y="2050.20" width="5.00" height="23.80" fill="#000"/>
<rect x="1076.75" y="2061.30" width="4.80" height="12.70" fill="#000"/>
<rect x="1091.30" y="2061.30" width="4.80" height="12.70" fill="#000"/>
<rect x="1105.85" y="2061.30" width="4.80" height="12.70" fill="#000"/>
<rect x="1120.39" y="2061.30" width="4.80" height="12.70" fill="#000"/>
<rect x="1134.94" y="2061.30" width="4.80" height="12.70" fill="#000"/>
<rect x="1149.49" y="2061.30" width="4.80" height="12.70" fill="#000"/>
<rect x="1164.04" y="2061.30" width="4.80" height="12.70" fill="#000"/>
<rect x="1178.58" y="2061.30" width="4.80" height="12.70" fill="#000"/>
<rect x="1193.13" y="2061.30" width="4.80" height="12.70" fill="#000"/>
<rect x="1207.58" y="2050.20" width="5.00" height="23.80" fill="#000"/>
<rect x="1222.23" y="2061.30" width="4.80" height="12.70" fill="#000"/>
<rect x="1236.77" y="2061.30" width="4.80" height="12.70" fill="#000"/>
<rect x="1251.32" y="2061.30" width="4.80" height="12.70" fill="#000"/>
<rect x="1265.87" y="2061.30" width="4.80" height="12.70" fill="#000"/>
<rect x="1280.42" y="2061.30" width="4.80" height="12.70" fill="#000"/>
<rect x="1294.96" y="2061.30" width="4.80" height="12.70" fill="#000"/>
<rect x="1309.51" y="2061.30" width="4.80" height="12.70" fill="#000"/>
<rect x="1324.06" y="2061.30" width="4.80" height="12.70" fill="#000"/>
<rect x="1338.61" y="2061.30" width="4.80" height="12.70" fill="#000"/>
<rect x="1353.05" y="2050.20" width="5.00" height="23.80" fill="#000"/>
<rect x="1367.70" y="2061.30" width="4.80" height="12.70" fill="#000"/>
<rect x="1382.25" y="2061.30" width="4.80" height="12.70" fill="#000"/>
<rect x="1396.79" y="2061.30" width="4.80" height="12.70" fill="#000"/>
<rect x="1411.34" y="2061.30" width="4.80" height="12.70" fill="#000"/>
<rect x="1425.89" y="2061.30" width="4.80" height="12.70" fill="#000"/>
<rect x="1440.44" y="2061.30" width="4.80" height="12.70" fill="#000"/>
<rect x="1454.98" y="2061.30" width="4.80" height="12.70" fill="#000"/>
<rect x="1469.53" y="2061.30" width="4.80" height="12.70" fill="#000"/>
<rect x="1484.08" y="2061.30" width="4.80" height="12.70" fill="#000"/>
<rect x="1498.53" y="2050.20" width="5.00" height="23.80" fill="#000"/>
<rect x="1513.17" y="2061.30" width="4.80" height="12.70" fill="#000"/>
<rect x="1527.72" y="2061.30" width="4.80" height="12.70" fill="#000"/>
<rect x="1542.27" y="2061.30" width="4.80" height="12.70" fill="#000"/>
<rect x="1556.82" y="2061.30" width="4.80" height="12.70" fill="#000"/>
<rect x="1571.36" y="2061.30" width="4.80" height="12.70" fill="#000"/>
<rect x="1585.91" y="2061.30" width="4.80" height="12.70" fill="#000"/>
<rect x="1600.46" y="2061.30" width="4.80" height="12.70" fill="#000"/>
<rect x="1615.01" y="2061.30" width="4.80" height="12.70" fill="#000"/>
<rect x="1629.55" y="2061.30" width="4.80" height="12.70" fill="#000"/>
<rect x="265.00" y="1796.60" width="26.20" height="4.60" fill="#000"/>
<rect x="265.00" y="2018.50" width="26.20" height="4.60" fill="#000"/>
<rect x="265.00" y="1684.70" width="12.60" height="4.60" fill="#000"/>
<rect x="265.00" y="1907.70" width="12.60" height="4.60" fill="#000"/>
<rect x="1020.40" y="1901.85" width="278.20" height="2.90" fill="#000"/>
<rect x="1295.85" y="1586.30" width="2.90" height="318.40" fill="#000"/>
<rect x="1023.40" y="1614.10" width="97.70" height="4.60" fill="#000"/>
<rect x="1023.40" y="1665.50" width="97.70" height="4.60" fill="#FF0000"/>
<rect x="1023.40" y="1717.50" width="97.70" height="4.60" fill="#00FF00"/>
<rect x="1023.40" y="1769.50" width="97.70" height="4.60" fill="#0000FF"/>
<rect x="1023.40" y="1821.10" width="97.70" height="4.60" fill="#FF00FF"/>
<rect x="1023.40" y="1873.00" width="97.70" height="4.60" fill="#800080"/>
<text transform="translate(269.79,213.80) scale(1.0376,1)" font-size="83.50">(a)</text>
<text transform="translate(814.99,195.80) scale(0.9779,1)" font-size="67.50">Increase of peak:</text>
<text transform="translate(814.35,277.30) scale(0.9763,1)" font-size="68.60">CH</text>
<text transform="translate(909.56,298.30) scale(1.0925,1)" font-size="37.42">2</text>
<text transform="translate(952.30,277.30) scale(0.9600,1)" font-size="68.60">anti-symm.</text>
<text transform="translate(901.34,353.70) scale(1.0165,1)" font-size="53.20">Peak Area</text>
<text transform="translate(1462.49,173.40) scale(1.0432,1)" font-size="40.50">Comp. <tspan font-weight="bold">2</tspan></text>
<text transform="translate(1463.03,276.80) scale(1.0277,1)" font-size="40.50">Scan 2</text>
<text transform="translate(1463.03,224.80) scale(1.0277,1)" font-size="40.50">Scan 1</text>
<text transform="translate(1463.03,328.80) scale(1.0277,1)" font-size="40.50">Scan 3</text>
<text transform="translate(1463.03,380.20) scale(1.0277,1)" font-size="40.50">Scan 4</text>
<text transform="translate(1463.03,431.80) scale(1.0277,1)" font-size="40.50">Scan 5</text>
<text transform="translate(204.48,685.80) scale(0.9513,1)" font-size="56.49">3000</text>
<text transform="translate(342.15,685.80) scale(0.9513,1)" font-size="56.49">2980</text>
<text transform="translate(480.35,685.80) scale(0.9513,1)" font-size="56.49">2960</text>
<text transform="translate(618.55,685.80) scale(0.9513,1)" font-size="56.49">2940</text>
<text transform="translate(756.75,685.80) scale(0.9513,1)" font-size="56.49">2920</text>
<text transform="translate(894.95,685.80) scale(0.9513,1)" font-size="56.49">2900</text>
<text transform="translate(1033.15,685.80) scale(0.9513,1)" font-size="56.49">2880</text>
<text transform="translate(1171.35,685.80) scale(0.9513,1)" font-size="56.49">2860</text>
<text transform="translate(1309.55,685.80) scale(0.9513,1)" font-size="56.49">2840</text>
<text transform="translate(1447.75,685.80) scale(0.9513,1)" font-size="56.49">2820</text>
<text transform="translate(1585.95,685.80) scale(0.9513,1)" font-size="56.49">2800</text>
<text transform="translate(120.81,135.80) scale(0.9565,1)" font-size="62.37">0.03</text>
<text transform="translate(120.81,361.80) scale(0.9565,1)" font-size="62.37">0.02</text>
<text transform="translate(120.81,590.40) scale(0.9565,1)" font-size="62.37">0.01</text>
<text transform="translate(654.24,779.00) scale(0.9937,1)" font-size="73.40">Wavenumber, cm</text>
<text transform="translate(1217.37,742.80) scale(0.9351,1)" font-size="41.16">-1</text>
<g transform="rotate(-90)"><text transform="translate(-542.47,89.60) scale(0.9867,1)" font-size="67.00">Absorbance</text></g>
<text transform="translate(302.97,939.20) scale(1.0408,1)" font-size="83.50">(b)</text>
<text transform="translate(1260.88,993.20) scale(0.9898,1)" font-size="60.20">Plateau:</text>
<text transform="translate(1261.78,1066.60) scale(0.9883,1)" font-size="60.20">max. sorption</text>
<text transform="translate(774.69,1147.10) scale(0.9861,1)" font-size="80.00">Peak area:</text>
<text transform="translate(775.93,1242.60) scale(0.9933,1)" font-size="80.00">CH</text>
<text transform="translate(889.04,1269.50) scale(1.0631,1)" font-size="46.31">2</text>
<text transform="translate(936.95,1242.60) scale(0.9851,1)" font-size="80.00">anti-symm. vibr.</text>
<text transform="translate(248.78,1415.30) scale(1.0160,1)" font-size="54.62">0</text>
<text transform="translate(341.20,1415.30) scale(1.0160,1)" font-size="54.62">2</text>
<text transform="translate(433.33,1415.30) scale(1.0160,1)" font-size="54.62">4</text>
<text transform="translate(525.47,1415.30) scale(1.0160,1)" font-size="54.62">6</text>
<text transform="translate(617.60,1415.30) scale(1.0160,1)" font-size="54.62">8</text>
<text transform="translate(694.30,1415.30) scale(1.0160,1)" font-size="54.62">10</text>
<text transform="translate(786.43,1415.30) scale(1.0160,1)" font-size="54.62">12</text>
<text transform="translate(878.57,1415.30) scale(1.0160,1)" font-size="54.62">14</text>
<text transform="translate(970.70,1415.30) scale(1.0160,1)" font-size="54.62">16</text>
<text transform="translate(1062.83,1415.30) scale(1.0160,1)" font-size="54.62">18</text>
<text transform="translate(1154.97,1415.30) scale(1.0160,1)" font-size="54.62">20</text>
<text transform="translate(1247.10,1415.30) scale(1.0160,1)" font-size="54.62">22</text>
<text transform="translate(1339.23,1415.30) scale(1.0160,1)" font-size="54.62">24</text>
<text transform="translate(1431.37,1415.30) scale(1.0160,1)" font-size="54.62">26</text>
<text transform="translate(1523.50,1415.30) scale(1.0160,1)" font-size="54.62">28</text>
<text transform="translate(1615.63,1415.30) scale(1.0160,1)" font-size="54.62">30</text>
<text transform="translate(155.43,864.80) scale(0.9966,1)" font-size="59.35">0.2</text>
<text transform="translate(155.43,1114.40) scale(0.9966,1)" font-size="59.35">0.1</text>
<text transform="translate(155.43,1364.10) scale(0.9966,1)" font-size="59.35">0.0</text>
<text transform="translate(626.71,1498.50) scale(0.9700,1)" font-size="68.10">Time of Reaction, min.</text>
<g transform="rotate(-90)"><text transform="translate(-1324.40,92.30) scale(0.9683,1)" font-size="68.80">Peak Area, a.u.</text></g>
<text transform="translate(304.86,1661.10) scale(1.0369,1)" font-size="84.00">(c)</text>
<text transform="translate(441.10,1662.70) scale(0.9523,1)" font-size="69.30">Increase of peak:</text>
<text transform="translate(439.35,1741.45) scale(1.0579,1)" font-size="63.50">of CH</text>
<text transform="translate(609.25,1765.80) scale(0.9954,1)" font-size="41.29">2</text>
<text transform="translate(652.26,1741.45) scale(1.0234,1)" font-size="63.50">wag.</text>
<text transform="translate(1132.79,1629.30) scale(1.0432,1)" font-size="40.50">Comp. <tspan font-weight="bold">2</tspan></text>
<text transform="translate(1133.03,1681.30) scale(1.0277,1)" font-size="40.50">Scan 1</text>
<text transform="translate(1133.03,1733.20) scale(1.0277,1)" font-size="40.50">Scan 2</text>
<text transform="translate(1133.03,1784.80) scale(1.0277,1)" font-size="40.50">Scan 3</text>
<text transform="translate(1133.03,1836.30) scale(1.0277,1)" font-size="40.50">Scan <tspan font-weight="bold">4</tspan></text>
<text transform="translate(1133.03,1888.20) scale(1.0277,1)" font-size="40.50">Scan 5</text>
<text transform="translate(279.32,2145.00) scale(0.9542,1)" font-size="55.63">1290</text>
<text transform="translate(423.53,2145.00) scale(0.9542,1)" font-size="55.63">1280</text>
<text transform="translate(569.00,2145.00) scale(0.9542,1)" font-size="55.63">1270</text>
<text transform="translate(714.48,2145.00) scale(0.9542,1)" font-size="55.63">1260</text>
<text transform="translate(859.95,2145.00) scale(0.9542,1)" font-size="55.63">1250</text>
<text transform="translate(1005.42,2145.00) scale(0.9542,1)" font-size="55.63">1240</text>
<text transform="translate(1150.90,2145.00) scale(0.9542,1)" font-size="55.63">1230</text>
<text transform="translate(1296.37,2145.00) scale(0.9542,1)" font-size="55.63">1220</text>
<text transform="translate(1441.85,2145.00) scale(0.9542,1)" font-size="55.63">1210</text>
<text transform="translate(1587.32,2145.00) scale(0.9542,1)" font-size="55.63">1200</text>
<text transform="translate(120.81,1594.50) scale(0.9702,1)" font-size="61.65">0.06</text>
<text transform="translate(120.81,1817.20) scale(0.9702,1)" font-size="61.65">0.04</text>
<text transform="translate(120.81,2038.00) scale(0.9702,1)" font-size="61.65">0.02</text>
<text transform="translate(654.94,2246.00) scale(1.0231,1)" font-size="71.20">Wavenumber, cm</text>
<text transform="translate(1217.37,2211.60) scale(0.9001,1)" font-size="42.76">-1</text>
<g transform="rotate(-90)"><text transform="translate(-2000.96,73.40) scale(0.9922,1)" font-size="66.30">Absorbance</text></g>
</svg></body></html>
